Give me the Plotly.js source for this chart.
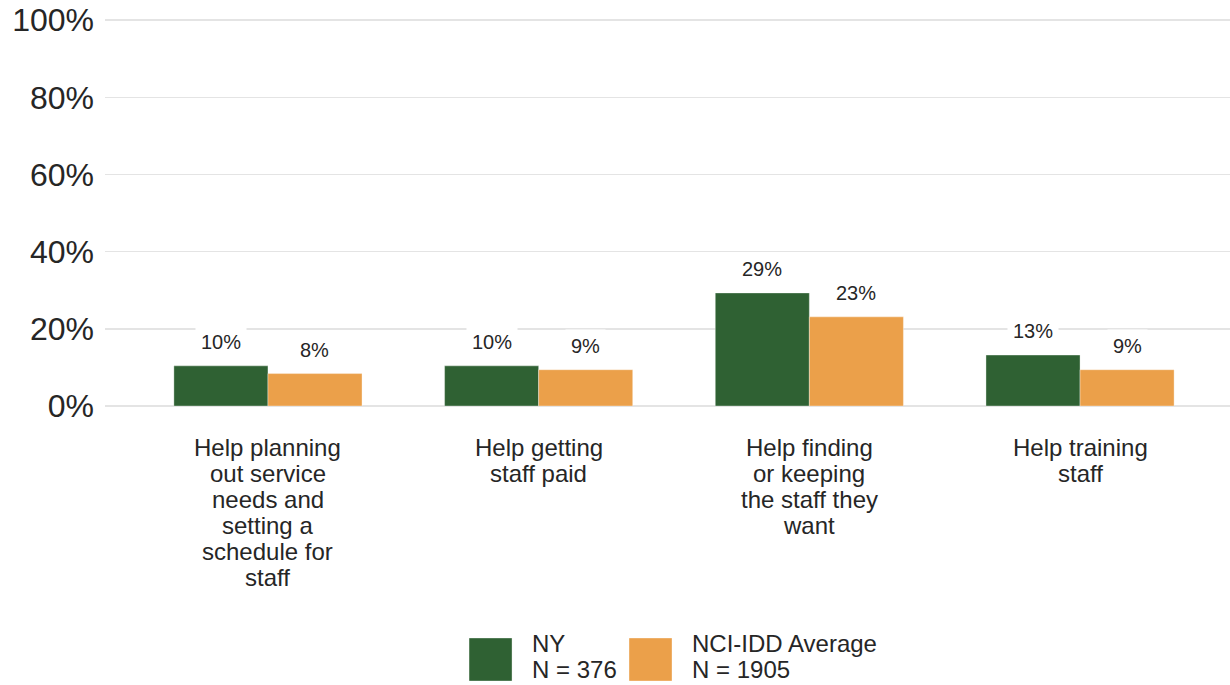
<!DOCTYPE html>
<html>
<head>
<meta charset="utf-8">
<script src="https://cdn.plot.ly/plotly-3.0.1.min.js"></script>
<style>
  html, body { margin: 0; padding: 0; background: #ffffff; }
  #chart { width: 1230px; height: 685px; }
</style>
</head>
<body>
<div id="chart"></div>
<script>
// ---- data ----
const categories = [
  "Help planning out service needs and setting a schedule for staff",
  "Help getting staff paid",
  "Help finding or keeping the staff they want",
  "Help training staff"
];
const categoryLines = [
  ["Help planning", "out service", "needs and", "setting a", "schedule for", "staff"],
  ["Help getting", "staff paid"],
  ["Help finding", "or keeping", "the staff they", "want"],
  ["Help training", "staff"]
];
const nyValues  = [10.4, 10.4, 29.3, 13.2];
const avgValues = [8.4, 9.4, 23.1, 9.4];
const seriesNames = ["NY", "NCI-IDD Average"];
const legendLines = [["NY", "N = 376"], ["NCI-IDD Average", "N = 1905"]];
const yTickValues = [0, 20, 40, 60, 80, 100];

// ---- style ----
const FONT = "Liberation Sans, Arial, Helvetica, sans-serif";
const colors = ["#2f6133", "#eba04a"];
const textColor = "#262626";
const gridColor = "#e4e4e4";

const series = [nyValues, avgValues];

const traces = series.map((vals, i) => ({
  type: "bar",
  name: seriesNames[i],
  x: categories,
  y: vals,
  marker: { color: colors[i], line: { color: "rgba(255,255,255,0.35)", width: 1 } },
  hoverinfo: "skip",
  showlegend: false
}));

const annotations = [];
const barShift = [-47, 47];
series.forEach((vals, i) => {
  vals.forEach((v, j) => {
    annotations.push({
      x: categories[j], y: v, xref: "x", yref: "y",
      text: Math.round(v) + "%",
      showarrow: false,
      xanchor: "center", yanchor: "middle",
      xshift: barShift[i], yshift: 24,
      bgcolor: "#ffffff", borderpad: 5,
      font: { family: FONT, size: 20, color: textColor }
    });
  });
});

// category labels (one annotation per line)
categoryLines.forEach((lines, j) => {
  lines.forEach((line, k) => {
    annotations.push({
      x: categories[j], y: 0, xref: "x", yref: "paper",
      text: line, showarrow: false,
      xanchor: "center", yanchor: "middle",
      yshift: -41 - 26 * k,
      font: { family: FONT, size: 24, color: textColor }
    });
  });
});

// custom legend
const legendTextX = [0.3784, 0.5207];
const swatchX = [[0.3236, 0.3618], [0.4658, 0.5040]];
const shapes = [];
legendLines.forEach((lines, i) => {
  shapes.push({
    type: "rect", xref: "paper", yref: "paper",
    x0: swatchX[i][0], x1: swatchX[i][1], y0: -0.7106, y1: -0.5995,
    fillcolor: colors[i], line: { color: "rgba(255,255,255,0.35)", width: 1 }
  });
  lines.forEach((line, k) => {
    annotations.push({
      x: legendTextX[i], y: 0, xref: "paper", yref: "paper",
      text: line, showarrow: false,
      xanchor: "left", yanchor: "middle",
      yshift: -237 - 26 * k,
      borderpad: 0,
      font: { family: FONT, size: 24, color: textColor }
    });
  });
});

const layout = {
  width: 1230, height: 685,
  margin: { l: 105, r: 0, t: 19, b: 279, pad: 0 },
  paper_bgcolor: "#ffffff", plot_bgcolor: "#ffffff",
  font: { family: FONT, color: textColor },
  barmode: "group",
  bargap: 0.305, bargroupgap: 0,
  showlegend: false,
  xaxis: {
    type: "category",
    range: [-0.602, 3.554],
    showticklabels: false,
    showgrid: false, zeroline: false, showline: false, ticks: ""
  },
  yaxis: {
    range: [0, 100.3],
    tickvals: yTickValues,
    ticktext: yTickValues.map(v => v + "%"),
    tickfont: { family: FONT, size: 32, color: textColor },
    showgrid: true, gridcolor: gridColor, gridwidth: 1.5,
    zeroline: true, zerolinecolor: gridColor, zerolinewidth: 1.5,
    showline: false, ticks: "",
    ticklabelstandoff: 10
  },
  annotations: annotations,
  shapes: shapes
};

Plotly.newPlot("chart", traces, layout, { staticPlot: true, displayModeBar: false });
</script>
</body>
</html>
